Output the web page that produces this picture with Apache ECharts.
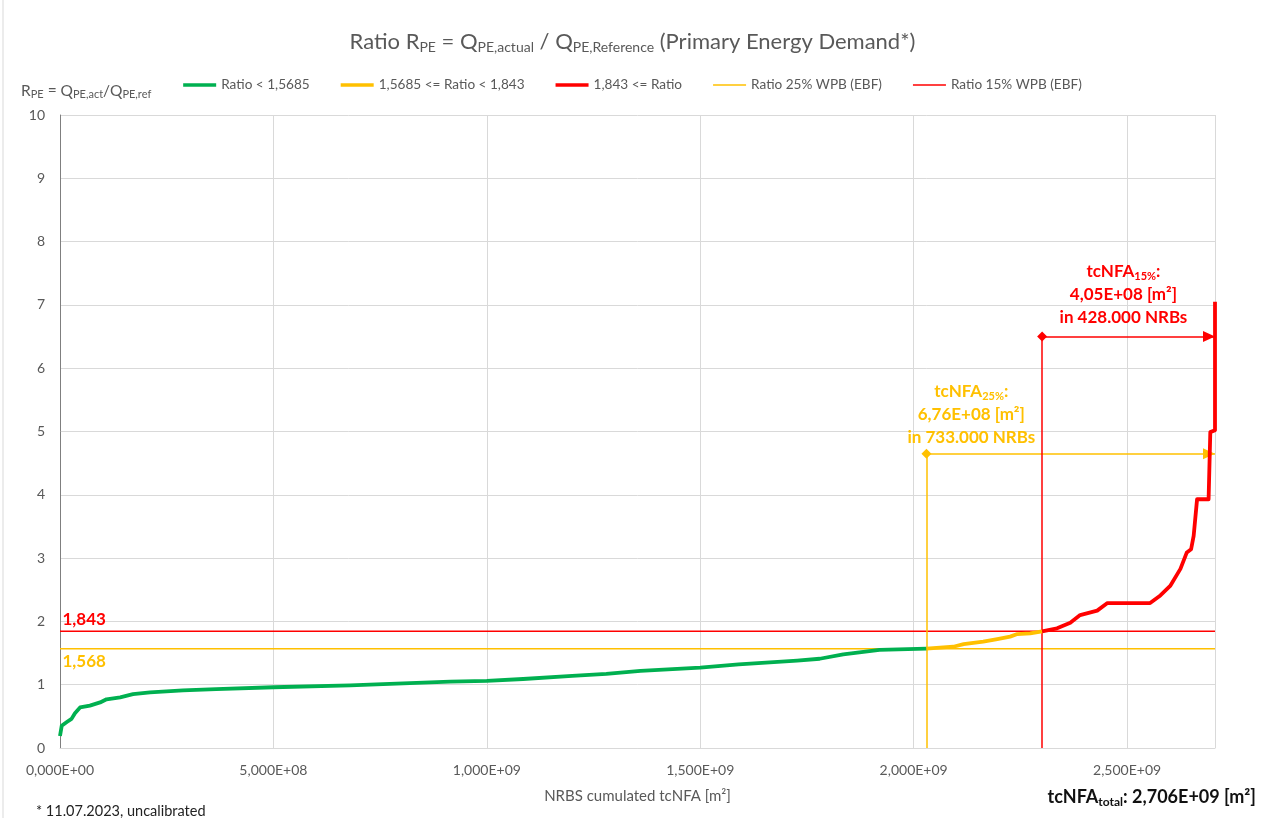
<!DOCTYPE html>
<html>
<head>
<meta charset="utf-8">
<title>Ratio RPE</title>
<script src="https://cdn.jsdelivr.net/npm/echarts@6/dist/echarts.min.js"></script>
<style>
  html, body { margin: 0; padding: 0; background: #fff; }
  #chart { width: 1265px; height: 818px; }
</style>
</head>
<body>
<div id="chart"></div>
<script>
// cumulated tcNFA in units of 1e9 m², ratio values per band
const X_UNIT = 1e9;

const greenX = [0, 0.004, 0.016, 0.027, 0.035, 0.047, 0.070, 0.094, 0.109, 0.141, 0.171, 0.211, 0.288, 0.366, 0.50, 0.68, 0.757, 0.914, 1.00, 1.085, 1.20, 1.28, 1.36, 1.50, 1.59, 1.727, 1.78, 1.835, 1.92, 2.030];
const greenY = [0.19, 0.35, 0.41, 0.46, 0.55, 0.64, 0.67, 0.72, 0.77, 0.80, 0.85, 0.88, 0.91, 0.93, 0.96, 0.99, 1.01, 1.05, 1.06, 1.09, 1.14, 1.17, 1.22, 1.27, 1.32, 1.38, 1.41, 1.48, 1.55, 1.5685];

const yellowX = [2.030, 2.093, 2.117, 2.163, 2.196, 2.226, 2.243, 2.273, 2.301];
const yellowY = [1.5685, 1.60, 1.64, 1.68, 1.72, 1.76, 1.80, 1.81, 1.843];

const redX = [2.301, 2.336, 2.367, 2.390, 2.430, 2.454, 2.554, 2.578, 2.601, 2.625, 2.640, 2.650, 2.656, 2.664, 2.691, 2.695, 2.706, 2.706];
const redY = [1.843, 1.89, 1.98, 2.10, 2.17, 2.29, 2.29, 2.41, 2.56, 2.83, 3.09, 3.14, 3.35, 3.93, 3.93, 4.99, 5.02, 7.05];

// thresholds and summary figures
const ratio25 = 1.568;
const ratio15 = 1.843;
const totalNFA = 2.706;     // 1e9 m²
const nfa25 = 0.676;        // 1e9 m²
const nfa15 = 0.405;        // 1e9 m²
const nrb25 = 733000;
const nrb15 = 428000;
const arrowY25 = 4.65;
const arrowY15 = 6.5;

const xTickStep = 0.5;      // 1e9 m²
const yTicks = [0, 10, 1];  // min, max, step

const legendNames = ['Ratio < 1,5685', '1,5685 <= Ratio < 1,843', '1,843 <= Ratio', 'Ratio 25% WPB (EBF)', 'Ratio 15% WPB (EBF)'];

const C_GREEN = '#00B050', C_YELLOW = '#FFC000', C_RED = '#FF0000';
const FONT = 'Lato, "Noto Sans", sans-serif';
const GRAY = '#595959';

// legend swatches: thick and thin line bars
const ICON_THICK = 'path://M0,0H66V7H0Z';
const ICON_THIN = 'path://M0,0H66V3H0Z';

function sci(v, d) {
  if (v === 0) return (0).toFixed(d).replace('.', ',') + 'E+00';
  let e = Math.floor(Math.log10(Math.abs(v)));
  let m = v / Math.pow(10, e);
  if (Math.abs(+m.toFixed(d)) >= 10) { m /= 10; e++; }
  return m.toFixed(d).replace('.', ',') + 'E' + (e < 0 ? '-' : '+') + String(Math.abs(e)).padStart(2, '0');
}
function thousands(n) {
  return String(n).replace(/\B(?=(\d{3})+(?!\d))/g, '.');
}
function pairs(xs, ys) { return xs.map((x, i) => [x * X_UNIT, ys[i]]); }

const xMax = totalNFA * X_UNIT;
const x25 = (totalNFA - nfa25) * X_UNIT;
const x15 = (totalNFA - nfa15) * X_UNIT;

const chart = echarts.init(document.getElementById('chart'), null, { renderer: 'canvas' });

const bandLine = (name, xs, ys, color) => ({
  name, type: 'line', data: pairs(xs, ys), symbol: 'none', silent: true,
  lineStyle: { color, width: 3.8, join: 'round' }, itemStyle: { color },
  z: 5
});

const annotRich = (color) => ({
  b: { fontFamily: FONT, fontSize: 17, fontWeight: 'bold', color, lineHeight: 23 },
  s: { fontFamily: FONT, fontSize: 11, fontWeight: 'bold', color, lineHeight: 23, padding: [9, 0, 0, 0] }
});

const hiddenPoint = { symbol: 'circle', symbolSize: 1, itemStyle: { color: 'rgba(0,0,0,0)' } };

// horizontal double-ended pointer: diamond at the start, arrow head ending on the target
const pointer = (x1, x2, y) => [
  { coord: [x1, y], symbol: 'diamond', symbolSize: 10 },
  { coord: [x2, y], symbol: 'triangle', symbolSize: [11, 12], symbolOffset: [0, 6] }
];

chart.setOption({
  animation: false,
  backgroundColor: '#fff',
  textStyle: { fontFamily: FONT },
  title: [
    {
      text: 'Ratio R{s|PE} = Q{s|PE,actual} / Q{s|PE,Reference} (Primary Energy Demand*)',
      left: 'center', top: 25,
      textStyle: {
        fontFamily: FONT, fontSize: 22, color: GRAY, fontWeight: 'normal',
        rich: {
          s: { fontFamily: FONT, fontSize: 14, color: GRAY, padding: [10, 0, 0, 0] }
        }
      }
    },
    {
      text: 'R{s|PE} = Q{s|PE,act}/Q{s|PE,ref}',
      left: 16, top: 76,
      textStyle: {
        fontFamily: FONT, fontSize: 15.5, color: GRAY, fontWeight: 'normal',
        rich: { s: { fontFamily: FONT, fontSize: 11, color: GRAY, padding: [8, 0, 0, 0] } }
      }
    },
    {
      text: '* 11.07.2023, uncalibrated',
      left: 31, top: 799,
      textStyle: { fontFamily: FONT, fontSize: 14.5, color: '#222', fontWeight: 'normal' }
    },
    {
      text: '{b|tcNFA}{s|total}{b|: ' + sci(xMax, 3) + ' [m²]}',
      right: 4, top: 782,
      textStyle: {
        rich: {
          b: { fontFamily: FONT, fontSize: 18, fontWeight: 'bold', color: '#111' },
          s: { fontFamily: FONT, fontSize: 12, fontWeight: 'bold', color: '#111', padding: [9, 0, 0, 0] }
        }
      }
    }
  ],
  legend: {
    data: [
      { name: legendNames[0], icon: ICON_THICK },
      { name: legendNames[1], icon: ICON_THICK },
      { name: legendNames[2], icon: ICON_THICK },
      { name: legendNames[3], icon: ICON_THIN },
      { name: legendNames[4], icon: ICON_THIN }
    ],
    left: 'center', top: 73,
    itemWidth: 33, itemHeight: 14, itemGap: 31,
    symbolKeepAspect: true,
    itemStyle: { borderWidth: 0 },
    lineStyle: { width: 0 },
    textStyle: { fontFamily: FONT, fontSize: 13.6, color: GRAY },
    selectedMode: false
  },
  grid: { left: 60, right: 50, top: 115, bottom: 70, containLabel: false },
  xAxis: {
    type: 'value', min: 0, max: xMax, interval: xTickStep * X_UNIT,
    name: 'NRBS cumulated tcNFA [m²]', nameLocation: 'middle', nameGap: 41,
    nameTextStyle: { fontFamily: FONT, fontSize: 15, color: GRAY },
    axisLine: { show: true, lineStyle: { color: '#d9d9d9', width: 1 } },
    axisTick: { show: false },
    axisLabel: {
      fontFamily: FONT, fontSize: 14, color: GRAY, margin: 15,
      showMaxLabel: false,
      formatter: v => sci(v, 3)
    },
    splitLine: { show: true, lineStyle: { color: '#d9d9d9', width: 1 } }
  },
  yAxis: {
    type: 'value', min: yTicks[0], max: yTicks[1], interval: yTicks[2],
    axisLine: { show: true, lineStyle: { color: '#7f7f7f', width: 1 } },
    axisTick: { show: false },
    axisLabel: { fontFamily: FONT, fontSize: 14, color: GRAY, margin: 15 },
    splitLine: { show: true, lineStyle: { color: '#d9d9d9', width: 1 } }
  },
  series: [
    bandLine(legendNames[0], greenX, greenY, C_GREEN),
    bandLine(legendNames[1], yellowX, yellowY, C_YELLOW),
    bandLine(legendNames[2], redX, redY, C_RED),
    {
      name: legendNames[3], type: 'line', symbol: 'none', silent: true, z: 3,
      data: [[0, ratio25], [xMax, ratio25]],
      lineStyle: { color: C_YELLOW, width: 1.5 }, itemStyle: { color: C_YELLOW },
      markLine: {
        silent: true, animation: false,
        lineStyle: { color: C_YELLOW, width: 1.5, type: 'solid' },
        label: { show: false },
        data: [
          [{ coord: [x25, 0], symbol: 'none' }, { coord: [x25, arrowY25], symbol: 'none' }],
          pointer(x25, xMax, arrowY25)
        ]
      },
      markPoint: {
        silent: true, animation: false,
        data: [
          Object.assign({
            coord: [0, ratio25],
            label: {
              show: true, position: 'right', distance: 2, offset: [0, 13],
              formatter: String(ratio25).replace('.', ','),
              fontFamily: FONT, fontSize: 17, fontWeight: 'bold', color: C_YELLOW
            }
          }, hiddenPoint),
          Object.assign({
            coord: [x25 + 0.105 * X_UNIT, arrowY25],
            label: {
              show: true, position: 'top', distance: 4,
              formatter: '{b|tcNFA}{s|25%}{b|:}\n{b|' + sci(nfa25 * X_UNIT, 2) + ' [m²]}\n{b|in ' + thousands(nrb25) + ' NRBs}',
              align: 'center',
              rich: annotRich(C_YELLOW)
            }
          }, hiddenPoint)
        ]
      }
    },
    {
      name: legendNames[4], type: 'line', symbol: 'none', silent: true, z: 3,
      data: [[0, ratio15], [xMax, ratio15]],
      lineStyle: { color: C_RED, width: 1.5 }, itemStyle: { color: C_RED },
      markLine: {
        silent: true, animation: false,
        lineStyle: { color: C_RED, width: 1.5, type: 'solid' },
        label: { show: false },
        data: [
          [{ coord: [x15, 0], symbol: 'none' }, { coord: [x15, arrowY15], symbol: 'none' }],
          pointer(x15, xMax, arrowY15)
        ]
      },
      markPoint: {
        silent: true, animation: false,
        data: [
          Object.assign({
            coord: [0, ratio15],
            label: {
              show: true, position: 'right', distance: 2, offset: [0, -12],
              formatter: String(ratio15).replace('.', ','),
              fontFamily: FONT, fontSize: 17, fontWeight: 'bold', color: C_RED
            }
          }, hiddenPoint),
          Object.assign({
            coord: [(x15 + xMax) / 2 - 0.012 * X_UNIT, arrowY15],
            label: {
              show: true, position: 'top', distance: 7,
              formatter: '{b|tcNFA}{s|15%}{b|:}\n{b|' + sci(nfa15 * X_UNIT, 2) + ' [m²]}\n{b|in ' + thousands(nrb15) + ' NRBs}',
              align: 'center',
              rich: annotRich(C_RED)
            }
          }, hiddenPoint)
        ]
      }
    }
  ],
  graphic: [
    { type: 'line', shape: { x1: 3, y1: 0, x2: 3, y2: 818 }, style: { stroke: '#d9d9d9', lineWidth: 1 }, silent: true }
  ]
});
</script>
</body>
</html>
